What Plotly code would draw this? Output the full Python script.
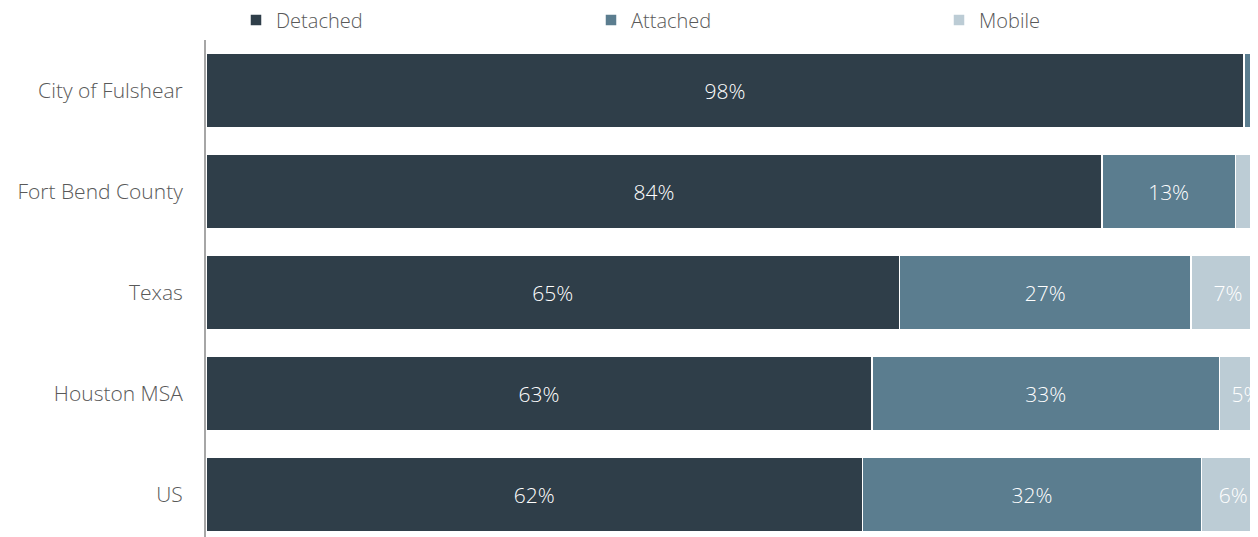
import plotly.graph_objects as go

categories = ["City of Fulshear", "Fort Bend County", "Texas", "Houston MSA", "US"]
detached = [98.0, 84.6, 65.5, 62.9, 62.0]
attached = [1.6, 12.6, 27.5, 32.8, 32.0]
mobile = [0.4, 2.8, 7.0, 5.0, 6.0]
detached_labels = ["98%", "84%", "65%", "63%", "62%"]
attached_labels = ["", "13%", "27%", "33%", "32%"]
mobile_labels = ["", "", "7%", "5%", "6%"]

FONT = "Open Sans"
W, H = 1250, 529  # page body has an 8px margin
series = [
    ("Detached", detached, detached_labels, "#2F3E49", "legend", 228),
    ("Attached", attached, attached_labels, "#5B7D8F", "legend2", 583),
    ("Mobile", mobile, mobile_labels, "#BCCCD5", "legend3", 931),
]

fig = go.Figure()
legends = {}
for name, vals, labels, color, leg, lx in series:
    fig.add_trace(go.Bar(
        y=categories, x=vals, name=name, orientation="h",
        marker=dict(color=color, line=dict(color="#FFFFFF", width=1.5)),
        text=labels, textposition="inside", insidetextanchor="middle",
        textfont=dict(family=FONT, size=21, color="#FFFFFF", weight=300),
        constraintext="none", cliponaxis=True, legend=leg,
    ))
    legends[leg] = dict(orientation="h", yref="paper", xref="container",
                        x=lx / W, y=1 + (32 - 12) / 497, yanchor="middle", xanchor="left",
                        font=dict(family=FONT, size=20, color="#595959", weight=300),
                        itemwidth=30, bgcolor="rgba(0,0,0,0)")

fig.update_layout(
    width=W, height=H,
    margin=dict(l=198, r=0, t=32, b=0, autoexpand=False),
    barmode="stack", bargap=0.255,
    plot_bgcolor="#FFFFFF", paper_bgcolor="#FFFFFF",
    showlegend=True,
    font=dict(family=FONT, size=20, color="#595959"),
    **legends,
)
fig.update_xaxes(range=[0, 99.34], showgrid=False, zeroline=False,
                 showticklabels=False, showline=False, fixedrange=True)
fig.update_yaxes(categoryorder="array", categoryarray=categories,
                 range=[4.42, -0.5], showgrid=False, zeroline=False,
                 showline=True, linecolor="#A6A6A6", linewidth=2,
                 ticks="", ticklabelstandoff=17,
                 tickfont=dict(family=FONT, size=21, color="#595959", weight=300))
fig.write_html("out.html")
